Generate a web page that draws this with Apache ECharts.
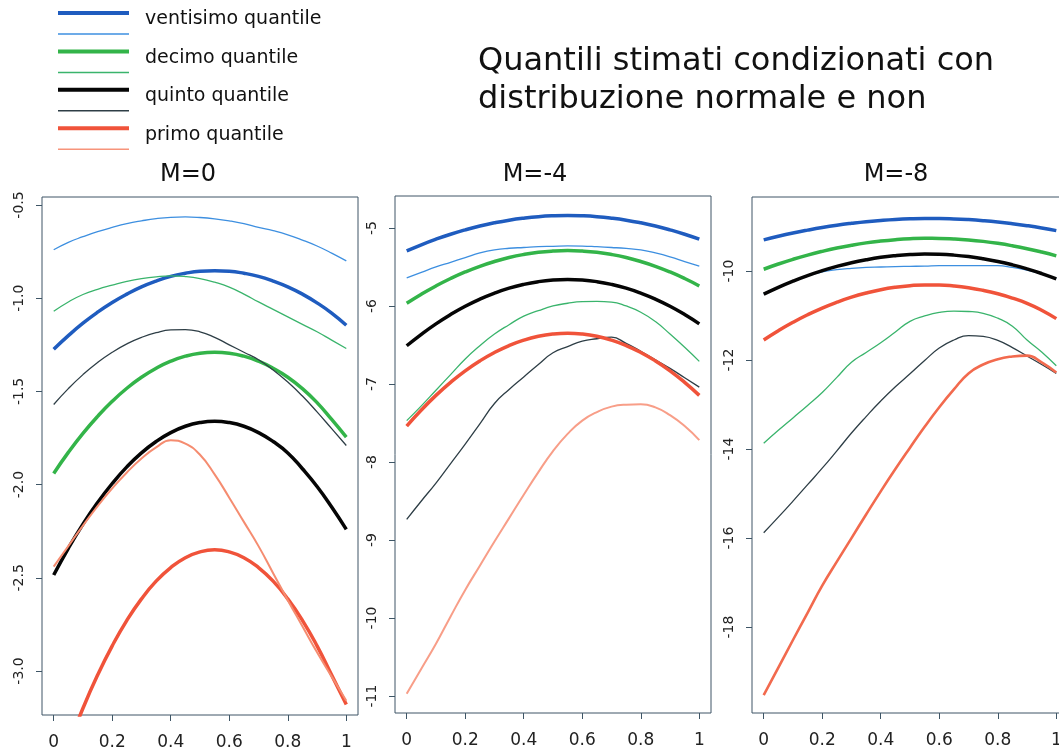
<!DOCTYPE html>
<html>
<head>
<meta charset="utf-8">
<script src="https://cdn.jsdelivr.net/npm/echarts@6/dist/echarts.min.js"></script>
<style>
  html, body { margin: 0; padding: 0; background: #fff; }
  #main { width: 1059px; height: 751px; }
</style>
</head>
<body>
<div id="main"></div>
<script>
// ascissa comune (passo 0.05)
var xs = [0, 0.05, 0.1, 0.15, 0.2, 0.25, 0.3, 0.35, 0.4, 0.45, 0.5, 0.55, 0.6, 0.65, 0.7, 0.75, 0.8, 0.85, 0.9, 0.95, 1]

// M=0  (norm = distribuzione normale, emp = non normale)
var m0Norm20 = [-1.274, -1.201, -1.134, -1.075, -1.023, -0.978, -0.939, -0.908, -0.883, -0.866, -0.855, -0.852, -0.855, -0.866, -0.883, -0.908, -0.939, -0.978, -1.025, -1.08, -1.145]
var m0Emp20 = [-0.74, -0.70, -0.67, -0.643, -0.62, -0.60, -0.585, -0.573, -0.566, -0.564, -0.567, -0.574, -0.585, -0.60, -0.62, -0.638, -0.66, -0.688, -0.72, -0.758, -0.80]
var m0Norm10 = [-1.94, -1.827, -1.725, -1.634, -1.553, -1.483, -1.424, -1.376, -1.338, -1.311, -1.295, -1.29, -1.295, -1.311, -1.338, -1.376, -1.424, -1.485, -1.56, -1.65, -1.745]
var m0Emp10 = [-1.07, -1.02, -0.98, -0.952, -0.93, -0.91, -0.895, -0.885, -0.88, -0.884, -0.895, -0.914, -0.94, -0.978, -1.02, -1.06, -1.10, -1.14, -1.18, -1.225, -1.27]
var m0Norm5 = [-2.485, -2.342, -2.212, -2.096, -1.994, -1.905, -1.83, -1.769, -1.721, -1.687, -1.667, -1.66, -1.667, -1.687, -1.721, -1.769, -1.83, -1.915, -2.01, -2.12, -2.24]
var m0Emp5 = [-1.57, -1.485, -1.41, -1.345, -1.29, -1.245, -1.21, -1.185, -1.17, -1.168, -1.18, -1.21, -1.25, -1.29, -1.33, -1.385, -1.45, -1.525, -1.61, -1.70, -1.79]
var m0Norm1 = [-3.62, -3.40, -3.20, -3.022, -2.865, -2.728, -2.613, -2.518, -2.445, -2.392, -2.361, -2.35, -2.361, -2.392, -2.445, -2.518, -2.613, -2.728, -2.865, -3.022, -3.18]
var m0Emp1 = [-2.44, -2.33, -2.22, -2.115, -2.02, -1.935, -1.86, -1.80, -1.762, -1.78, -1.84, -1.945, -2.07, -2.20, -2.33, -2.475, -2.62, -2.76, -2.90, -3.03, -3.16]

// M=-4
var m4Norm20 = [-5.294, -5.215, -5.144, -5.08, -5.024, -4.975, -4.934, -4.90, -4.874, -4.855, -4.844, -4.84, -4.844, -4.855, -4.874, -4.90, -4.934, -4.975, -5.024, -5.08, -5.144]
var m4Emp20 = [-5.64, -5.57, -5.50, -5.44, -5.38, -5.32, -5.28, -5.26, -5.25, -5.24, -5.235, -5.23, -5.232, -5.24, -5.25, -5.262, -5.28, -5.32, -5.37, -5.43, -5.49]
var m4Norm10 = [-5.966, -5.849, -5.743, -5.648, -5.564, -5.491, -5.43, -5.379, -5.34, -5.312, -5.296, -5.29, -5.296, -5.312, -5.34, -5.379, -5.43, -5.491, -5.564, -5.648, -5.743]
var m4Emp10 = [-7.47, -7.28, -7.08, -6.88, -6.68, -6.51, -6.36, -6.24, -6.13, -6.06, -6.00, -5.965, -5.945, -5.942, -5.95, -6.00, -6.08, -6.20, -6.36, -6.53, -6.71]
var m4Norm5 = [-6.51, -6.363, -6.229, -6.11, -6.004, -5.913, -5.836, -5.772, -5.723, -5.688, -5.667, -5.66, -5.667, -5.688, -5.723, -5.772, -5.836, -5.913, -6.004, -6.11, -6.229]
var m4Emp5 = [-8.735, -8.50, -8.27, -8.02, -7.77, -7.51, -7.25, -7.07, -6.91, -6.75, -6.60, -6.52, -6.45, -6.42, -6.40, -6.48, -6.58, -6.69, -6.80, -6.92, -7.04]
var m4Norm1 = [-7.539, -7.333, -7.146, -6.979, -6.831, -6.704, -6.596, -6.507, -6.438, -6.389, -6.36, -6.35, -6.36, -6.389, -6.438, -6.507, -6.596, -6.704, -6.831, -6.979, -7.146]
var m4Emp1 = [-10.97, -10.65, -10.33, -9.98, -9.64, -9.33, -9.02, -8.72, -8.42, -8.13, -7.86, -7.64, -7.47, -7.36, -7.29, -7.265, -7.26, -7.30, -7.40, -7.54, -7.72]

// M=-8
var m8Norm20 = [-9.30, -9.219, -9.146, -9.081, -9.022, -8.971, -8.928, -8.891, -8.863, -8.841, -8.827, -8.821, -8.821, -8.829, -8.845, -8.868, -8.898, -8.936, -8.981, -9.033, -9.093]
var m8Emp20 = [-10.52, -10.37, -10.23, -10.11, -10.02, -9.97, -9.94, -9.92, -9.91, -9.90, -9.895, -9.89, -9.88, -9.878, -9.88, -9.878, -9.88, -9.92, -9.98, -10.07, -10.17]
var m8Norm10 = [-9.96, -9.843, -9.737, -9.642, -9.558, -9.484, -9.421, -9.368, -9.327, -9.296, -9.275, -9.266, -9.267, -9.279, -9.301, -9.334, -9.378, -9.433, -9.498, -9.574, -9.66]
var m8Emp10 = [-13.87, -13.58, -13.30, -13.02, -12.73, -12.39, -12.05, -11.83, -11.61, -11.37, -11.13, -11.01, -10.93, -10.90, -10.91, -10.95, -11.06, -11.24, -11.55, -11.82, -12.13]
var m8Norm5 = [-10.52, -10.366, -10.227, -10.102, -9.992, -9.896, -9.814, -9.747, -9.693, -9.655, -9.63, -9.62, -9.625, -9.643, -9.676, -9.724, -9.785, -9.861, -9.952, -10.057, -10.176]
var m8Emp5 = [-15.88, -15.53, -15.17, -14.80, -14.43, -14.04, -13.64, -13.27, -12.92, -12.60, -12.31, -12.01, -11.73, -11.55, -11.45, -11.47, -11.56, -11.72, -11.91, -12.10, -12.30]
var m8Norm1 = [-11.55, -11.342, -11.153, -10.983, -10.832, -10.701, -10.588, -10.495, -10.42, -10.365, -10.329, -10.312, -10.313, -10.334, -10.374, -10.434, -10.512, -10.609, -10.725, -10.88, -11.07]
var m8Emp1 = [-19.53, -18.91, -18.29, -17.68, -17.07, -16.53, -16.00, -15.47, -14.95, -14.45, -13.97, -13.50, -13.06, -12.66, -12.30, -12.10, -11.98, -11.92, -11.90, -12.05, -12.28]

// tacche
var xTicks = [0, 0.2, 0.4, 0.6, 0.8, 1]
var yTicks0 = [-3, -2.5, -2, -1.5, -1, -0.5]
var yTicks4 = [-11, -10, -9, -8, -7, -6, -5]
var yTicks8 = [-18, -16, -14, -12, -10]

var panelTitles = ['M=0', 'M=-4', 'M=-8']
var legendLabels = ['ventisimo quantile', 'decimo quantile', 'quinto quantile', 'primo quantile']

var colNorm = ['#1f5cbf', '#33b449', '#050505', '#f0533a']
var colEmp = ['#3d8fe0', '#3ab46c', '#2e3e46', '#f7947b']
// il primo quantile non normale appare piu' acceso nel pannello M=-8
var redEmpByPanel = ['#f58c70', '#f89e88', '#f26a4e']
var redEmpWidth = [2, 2, 2.6]
var boxColor = '#3e5566'
var font = 'DejaVu Sans'

var myChart = echarts.init(document.getElementById('main'))

function line (name, vals, gi, color, width) {
  return {
    name: name,
    type: 'line',
    xAxisIndex: gi,
    yAxisIndex: gi,
    data: xs.map(function (x, i) { return [x, vals[i]] }),
    smooth: true,
    showSymbol: false,
    silent: true,
    clip: true,
    lineStyle: { color: color, width: width },
    itemStyle: { color: color }
  }
}

function xAxis (gi) {
  return {
    type: 'value',
    gridIndex: gi,
    min: -0.04,
    max: 1.04,
    axisLine: { show: false, onZero: false },
    splitLine: { show: false },
    axisTick: { show: true, length: 6, customValues: xTicks, lineStyle: { color: boxColor } },
    axisLabel: {
      customValues: xTicks,
      margin: 19,
      fontSize: 17,
      color: '#222',
      fontFamily: font,
      formatter: function (v) { return String(v) }
    }
  }
}

function yAxis (gi, min, max, ticks, dec) {
  return {
    type: 'value',
    gridIndex: gi,
    min: min,
    max: max,
    axisLine: { show: false, onZero: false },
    splitLine: { show: false },
    axisTick: { show: true, length: 6, customValues: ticks, lineStyle: { color: boxColor } },
    axisLabel: {
      customValues: ticks,
      rotate: 90,
      margin: 16,
      fontSize: 14,
      color: '#222',
      fontFamily: font,
      formatter: function (v) { return v.toFixed(dec) }
    }
  }
}

var sets = [
  [m0Norm20, m0Emp20, m0Norm10, m0Emp10, m0Norm5, m0Emp5, m0Norm1, m0Emp1],
  [m4Norm20, m4Emp20, m4Norm10, m4Emp10, m4Norm5, m4Emp5, m4Norm1, m4Emp1],
  [m8Norm20, m8Emp20, m8Norm10, m8Emp10, m8Norm5, m8Emp5, m8Norm1, m8Emp1]
]

var series = []
for (var g = 0; g < 3; g++) {
  for (var q = 0; q < 4; q++) {
    series.push(line(legendLabels[q] + ' normale', sets[g][q * 2], g, colNorm[q], 3.5))
    if (q === 3) {
      series.push(line(legendLabels[q] + ' non normale', sets[g][q * 2 + 1], g, redEmpByPanel[g], redEmpWidth[g]))
    } else {
      series.push(line(legendLabels[q] + ' non normale', sets[g][q * 2 + 1], g, colEmp[q], 1.3))
    }
  }
}

// legenda e titoli
var graphic = []
for (var k = 0; k < 4; k++) {
  var y0 = 13 + k * 38.4
  graphic.push({ type: 'line', shape: { x1: 58, y1: y0, x2: 129, y2: y0 }, style: { stroke: colNorm[k], lineWidth: 4 } })
  graphic.push({ type: 'line', shape: { x1: 58, y1: y0 + 21, x2: 129, y2: y0 + 21 }, style: { stroke: colEmp[k], lineWidth: 1.5 } })
  graphic.push({ type: 'text', left: 145, top: y0 - 3, style: { text: legendLabels[k], fontSize: 19, fontFamily: font, fill: '#111' } })
}
graphic.push({ type: 'text', left: 478, top: 43, style: { text: 'Quantili stimati condizionati con\ndistribuzione normale e non', fontSize: 32, lineHeight: 38, fontFamily: font, fill: '#111' } })
var titleX = [188, 535, 896]
for (var t = 0; t < 3; t++) {
  graphic.push({ type: 'text', x: titleX[t], y: 175, style: { text: panelTitles[t], fontSize: 24, fontFamily: font, fill: '#111', align: 'center', verticalAlign: 'middle' } })
}

var option = {
  animation: false,
  backgroundColor: '#fff',
  textStyle: { fontFamily: font },
  grid: [
    { left: 42, top: 197, width: 316, height: 518, show: true, borderColor: boxColor, borderWidth: 1, outerBoundsMode: 'none' },
    { left: 395, top: 196, width: 316, height: 517, show: true, borderColor: boxColor, borderWidth: 1, outerBoundsMode: 'none' },
    { left: 752, top: 197, width: 316, height: 516, show: true, borderColor: boxColor, borderWidth: 1, outerBoundsMode: 'none' }
  ],
  xAxis: [xAxis(0), xAxis(1), xAxis(2)],
  yAxis: [
    yAxis(0, -3.236, -0.457, yTicks0, 1),
    yAxis(1, -11.218, -4.59, yTicks4, 0),
    yAxis(2, -19.93, -8.337, yTicks8, 0)
  ],
  graphic: graphic,
  series: series
}

myChart.setOption(option)
</script>
</body>
</html>
